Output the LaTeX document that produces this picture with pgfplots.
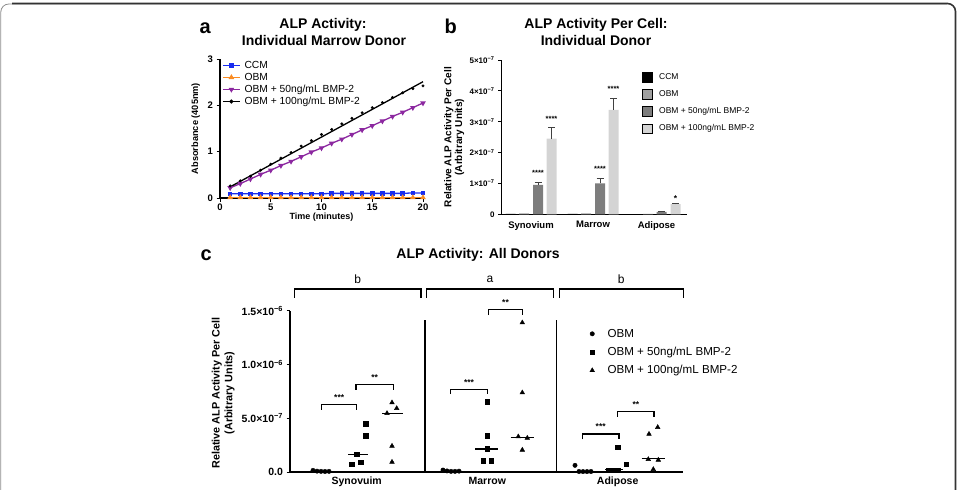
\documentclass[border=0pt]{standalone}
\usepackage{fontspec}
\setmainfont{Liberation Sans}
\usepackage{pgfplots}
\pgfplotsset{compat=1.18}

\definecolor{ccmblue}{RGB}{25,45,240}
\definecolor{obmorange}{RGB}{250,140,35}
\definecolor{bmppurple}{RGB}{140,40,160}
\definecolor{barobm}{RGB}{160,160,160}
\definecolor{barfifty}{RGB}{125,125,125}
\definecolor{barhundred}{RGB}{212,212,212}

\newcommand{\fsz}[2]{\fontsize{#1bp}{#2bp}\selectfont}
\newcommand{\sci}[2]{#1×10\textsuperscript{−#2}}

\pgfplotsset{
  prism/.style={
    scale only axis, clip=false,
    axis lines*=left,
    axis line style={line width=1.3bp, black},
    tick style={line width=1bp, black},
    major tick length=3.5bp,
    tick align=outside,
    /pgf/number format/assume math mode=true,
    legend cell align=left,
  },
}

\begin{document}
\begin{tikzpicture}
\useasboundingbox (0,0) rectangle (963bp,-490bp);
% rounded frame around the figure
\draw[line width=0.8bp, black!45] (0.8bp,-492bp) -- (0.8bp,-12bp) arc[start angle=180,end angle=90,radius=8bp] -- (947bp,-4bp);
\draw[line width=1.6bp, black!80, rounded corners=8bp] (12bp,-3.5bp) -- (955.5bp,-3.5bp) -- (955.5bp,-495bp);

% panel letters and titles
\node[anchor=base west, font=\bfseries\fsz{20}{22}] at (196bp,-33.3bp) {a};
\node[anchor=base west, font=\bfseries\fsz{20}{22}] at (441bp,-33.3bp) {b};
\node[anchor=base west, font=\bfseries\fsz{20}{22}] at (197bp,-260bp) {c};
\node[anchor=base, font=\bfseries\fsz{14}{16}] at (323bp,-28.3bp) {ALP Activity:};
\node[anchor=base, font=\bfseries\fsz{14}{16}] at (324bp,-45bp) {Individual Marrow Donor};
\node[anchor=base, font=\bfseries\fsz{14}{16}] at (596bp,-28.3bp) {ALP Activity Per Cell:};
\node[anchor=base, font=\bfseries\fsz{14}{16}] at (596bp,-45bp) {Individual Donor};
\node[anchor=base, font=\bfseries\fsz{14}{16}] at (478bp,-258.3bp) {ALP Activity: All Donors};

% ---------- a: absorbance over time ----------
\begin{axis}[prism, at={(220bp,-198bp)}, anchor=south west,
  width=203bp, height=139bp,
  xmin=0, xmax=20, ymin=0, ymax=3,
  xtick={0,5,10,15,20}, ytick={0,1,2,3},
  xticklabel style={yshift=1.5bp, font=\bfseries\fsz{9.5}{10}},
  yticklabel style={font=\bfseries\fsz{9.5}{10}},
  xlabel={Time (minutes)}, ylabel={Absorbance (405nm)},
  xlabel style={at={(axis description cs:0.5,-0.14)}, anchor=center, font=\bfseries\fsz{9}{10}},
  ylabel style={at={(axis description cs:-0.12,0.5)}, anchor=center, font=\bfseries\fsz{9.2}{10}},
  legend style={draw=none, fill=none, at={(0.01,1.0)}, anchor=north west,
    font=\fsz{10.3}{11}, row sep=-0.8bp, inner sep=0pt,
    /tikz/every odd column/.append style={column sep=2bp}},
]
\addplot[ccmblue, line width=1.3bp, mark=square*, mark size=1.6bp] coordinates {
 (1,0.09) (2,0.09) (3,0.09) (4,0.09) (5,0.09) (6,0.09) (7,0.09) (8,0.09) (9,0.09) (10,0.09)
 (11,0.10) (12,0.10) (13,0.10) (14,0.10) (15,0.10) (16,0.10) (17,0.10) (18,0.10) (19,0.11) (20,0.11)};
\addlegendentry{CCM}
\addplot[obmorange, line width=1.3bp, mark=triangle*, mark size=2bp] coordinates {
 (1,0.01) (2,0.01) (3,0.01) (4,0.01) (5,0.01) (6,0.01) (7,0.01) (8,0.01) (9,0.01) (10,0.01)
 (11,0.01) (12,0.01) (13,0.01) (14,0.01) (15,0.01) (16,0.01) (17,0.01) (18,0.01) (19,0.01) (20,0.01)};
\addlegendentry{OBM}
\addplot[bmppurple, line width=1.3bp, mark=triangle*, mark size=2bp, mark options={rotate=180}] coordinates {
 (1,0.22) (2,0.31) (3,0.41) (4,0.51) (5,0.60) (6,0.70) (7,0.79) (8,0.89) (9,0.99) (10,1.08)
 (11,1.18) (12,1.27) (13,1.37) (14,1.47) (15,1.56) (16,1.66) (17,1.76) (18,1.85) (19,1.95) (20,2.05)};
\addlegendentry{OBM + 50ng/mL BMP-2}
\addlegendimage{black, line width=1.3bp, mark=*, mark size=1.3bp}
\addlegendentry{OBM + 100ng/mL BMP-2}
% linear fit of the 100 ng/mL readings
\addplot[black, line width=1.3bp, forget plot] coordinates {(1,0.24) (20,2.51)};
\addplot[black, only marks, mark=*, mark size=1.3bp, forget plot] coordinates {
 (1,0.26) (2,0.37) (3,0.47) (4,0.60) (5,0.73) (6,0.86) (7,0.98) (8,1.12) (9,1.24) (10,1.37)
 (11,1.48) (12,1.60) (13,1.72) (14,1.84) (15,1.95) (16,2.06) (17,2.17) (18,2.27) (19,2.36) (20,2.42)};
\end{axis}

% ---------- b: activity per cell, one donor (units of 1e-7) ----------
\begin{axis}[prism, at={(501.5bp,-214.3bp)}, anchor=south west,
  width=185.5bp, height=154.3bp,
  xmin=0, xmax=185.5, ymin=0, ymax=5,
  ytick={0,1,2,3,4,5},
  yticklabels={0,\sci{1}{7},\sci{2}{7},\sci{3}{7},\sci{4}{7},\sci{5}{7}},
  yticklabel style={font=\bfseries\fsz{8}{8.5}},
  xtick={29.5,91.5,155}, xticklabels={Synovium,Marrow,Adipose},
  xtick style={draw=none},
  xticklabel style={font=\bfseries\fsz{9.5}{10}},
  ylabel={Relative ALP Activity Per Cell\\(Arbitrary Units)},
  ylabel style={align=center, at={(axis description cs:-0.255,0.5)}, anchor=center, font=\bfseries\fsz{10}{10.8}},
  legend image code/.code={\fill[#1] (0bp,-4.8bp) rectangle (10bp,4.8bp);},
  legend style={draw=none, fill=none, at={(0.755,0.925)}, anchor=north west,
    font=\fsz{8.5}{9}, row sep=5.5bp, inner sep=0pt,
    /tikz/every odd column/.append style={column sep=5bp}},
]
\addlegendimage{fill=black}
\addlegendentry{CCM}
\addlegendimage{fill=barobm}
\addlegendentry{OBM}
\addlegendimage{fill=barfifty}
\addlegendentry{OBM + 50ng/mL BMP-2}
\addlegendimage{fill=barhundred}
\addlegendentry{OBM + 100ng/mL BMP-2}
\addplot[ybar, bar width=10bp, bar shift=0pt, fill=black, draw=none, forget plot] coordinates {
 (9,0.01) (71,0.01) (133,0.005)};
\addplot[ybar, bar width=10bp, bar shift=0pt, fill=barobm, draw=none, forget plot] coordinates {
 (22.5,0.03) (84.5,0.03) (146.5,0.015)};
\addplot[ybar, bar width=10bp, bar shift=0pt, fill=barfifty, draw=none, forget plot,
  error bars/.cd, y dir=plus, y explicit,
  error bar style={line width=1bp, black!75},
  error mark options={rotate=90, mark size=3.5bp, line width=1bp, black!75}] coordinates {
 (36.5,0.95) +- (0,0.08) (98.5,1.0) +- (0,0.17) (160,0.08) +- (0,0.02)};
\addplot[ybar, bar width=10bp, bar shift=0pt, fill=barhundred, draw=none, forget plot,
  error bars/.cd, y dir=plus, y explicit,
  error bar style={line width=1bp, black!75},
  error mark options={rotate=90, mark size=3.5bp, line width=1bp, black!75}] coordinates {
 (50,2.45) +- (0,0.37) (112,3.38) +- (0,0.37) (174,0.33) +- (0,0.03)};
% significance marks
\node[font=\bfseries\fsz{7.5}{7.5}] at (axis cs:36.5,1.33) {****};
\node[font=\bfseries\fsz{7.5}{7.5}] at (axis cs:50,3.09) {****};
\node[font=\bfseries\fsz{7.5}{7.5}] at (axis cs:98.5,1.47) {****};
\node[font=\bfseries\fsz{7.5}{7.5}] at (axis cs:112,4.05) {****};
\node[font=\bfseries\fsz{8.5}{8.5}] at (axis cs:174,0.52) {*};
\end{axis}

% ---------- c: activity per cell, all donors (units of 1e-6) ----------
\begin{axis}[prism, at={(290bp,-472bp)}, anchor=south west,
  width=393.3bp, height=161.3bp,
  xmin=0, xmax=393.3, ymin=0, ymax=1.5,
  ytick={0,0.5,1,1.5},
  yticklabels={0.0,\sci{5.0}{7},\sci{1.0}{6},\sci{1.5}{6}},
  yticklabel style={font=\bfseries\fsz{10.5}{11}},
  xtick={66.7,197.3,327.7}, xticklabels={Synovuim,Marrow,Adipose},
  xtick style={draw=none},
  xticklabel style={font=\bfseries\fsz{10.5}{11}, yshift=2bp},
  ylabel={Relative ALP Activity Per Cell\\(Arbitrary Units)},
  ylabel style={align=center, at={(axis description cs:-0.17,0.49)}, anchor=center, font=\bfseries\fsz{10.8}{12.8}},
  legend style={draw=none, fill=none, at={(0.762,0.9)}, anchor=north west,
    font=\fsz{11.6}{12}, row sep=4.5bp, inner sep=0pt,
    /tikz/every odd column/.append style={column sep=11bp}},
]
\addplot[only marks, mark=*, mark size=2.2bp, black] coordinates {
 (23,0.015) (27,0.008) (31,0.006) (35,0.005) (39,0.006)
 (153,0.018) (157,0.010) (161,0.006) (165,0.006) (169,0.008)
 (285,0.062) (289,0.005) (293,0.004) (297,0.004) (301,0.005)};
\addlegendentry{OBM}
\addplot[only marks, mark=square*, mark size=2.3bp, black] coordinates {
 (75.7,0.449) (75.7,0.335) (66.7,0.165) (61.7,0.072) (70.7,0.093)
 (197.3,0.654) (197.3,0.338) (197.3,0.214) (193.3,0.105) (201.3,0.105)
 (327.7,0.230) (336,0.071) (318,0.018) (323,0.016) (328,0.018)};
\addlegendentry{OBM + 50ng/mL BMP-2}
\addplot[only marks, mark=triangle*, mark size=2.7bp, black] coordinates {
 (102,0.645) (106.7,0.592) (97,0.546) (102,0.242) (102,0.093)
 (232.3,1.389) (232.3,0.738) (228.3,0.329) (237.3,0.316) (232.3,0.205)
 (367.7,0.416) (359,0.353) (358.3,0.118) (368.3,0.112) (363.3,0.025)};
\addlegendentry{OBM + 100ng/mL BMP-2}
% medians
\addplot[black, line width=1.2bp, forget plot] coordinates {(20,0.006) (42,0.006)};
\addplot[black, line width=1.2bp, forget plot] coordinates {(58,0.165) (78,0.165)};
\addplot[black, line width=1.2bp, forget plot] coordinates {(92,0.546) (113,0.546)};
\addplot[black, line width=1.2bp, forget plot] coordinates {(150,0.008) (172,0.008)};
\addplot[black, line width=1.2bp, forget plot] coordinates {(185,0.214) (208,0.214)};
\addplot[black, line width=1.2bp, forget plot] coordinates {(220.7,0.322) (244,0.322)};
\addplot[black, line width=1.2bp, forget plot] coordinates {(283,0.005) (303,0.005)};
\addplot[black, line width=1.2bp, forget plot] coordinates {(315,0.02) (333,0.02)};
\addplot[black, line width=1.2bp, forget plot] coordinates {(351.7,0.124) (375,0.124)};
% separators between tissues
\draw[line width=1.3bp] (axis cs:135,0) -- (axis cs:135,1.41);
\draw[line width=1.3bp] (axis cs:266.7,0) -- (axis cs:266.7,1.41);
% group brackets
\draw[line width=1.4bp] (axis cs:4.3,1.619) -- (axis cs:4.3,1.702) -- (axis cs:131,1.702) -- (axis cs:131,1.619);
\draw[line width=1.4bp] (axis cs:136.7,1.619) -- (axis cs:136.7,1.702) -- (axis cs:263.3,1.702) -- (axis cs:263.3,1.619);
\draw[line width=1.4bp] (axis cs:269.3,1.619) -- (axis cs:269.3,1.702) -- (axis cs:393.3,1.702) -- (axis cs:393.3,1.619);
\node[font=\fsz{12}{12}] at (axis cs:67.7,1.79) {b};
\node[font=\fsz{12}{12}] at (axis cs:200,1.79) {a};
\node[font=\fsz{12}{12}] at (axis cs:331.3,1.79) {b};
% pairwise comparison brackets
\draw[line width=1.1bp] (axis cs:31.7,0.577) -- (axis cs:31.7,0.626) -- (axis cs:66.7,0.626) -- (axis cs:66.7,0.577);
\draw[line width=1.1bp] (axis cs:66,0.763) -- (axis cs:66,0.81) -- (axis cs:103.3,0.81) -- (axis cs:103.3,0.763);
\draw[line width=1.1bp] (axis cs:160.7,0.725) -- (axis cs:160.7,0.769) -- (axis cs:197.3,0.769) -- (axis cs:197.3,0.725);
\draw[line width=1.1bp] (axis cs:198.3,1.46) -- (axis cs:198.3,1.513) -- (axis cs:232.7,1.513) -- (axis cs:232.7,1.46);
\draw[line width=1.1bp] (axis cs:292.3,0.304) -- (axis cs:292.3,0.353) -- (axis cs:329,0.353) -- (axis cs:329,0.304);
\draw[line width=1.1bp] (axis cs:327.7,0.515) -- (axis cs:327.7,0.561) -- (axis cs:364,0.561) -- (axis cs:364,0.515);
\node[font=\bfseries\fsz{8.5}{8.5}] at (axis cs:49.2,0.69) {***};
\node[font=\bfseries\fsz{8.5}{8.5}] at (axis cs:84.7,0.875) {**};
\node[font=\bfseries\fsz{8.5}{8.5}] at (axis cs:179,0.835) {***};
\node[font=\bfseries\fsz{8.5}{8.5}] at (axis cs:215.5,1.575) {**};
\node[font=\bfseries\fsz{8.5}{8.5}] at (axis cs:310.7,0.42) {***};
\node[font=\bfseries\fsz{8.5}{8.5}] at (axis cs:345.9,0.625) {**};
\end{axis}
\end{tikzpicture}
\end{document}
